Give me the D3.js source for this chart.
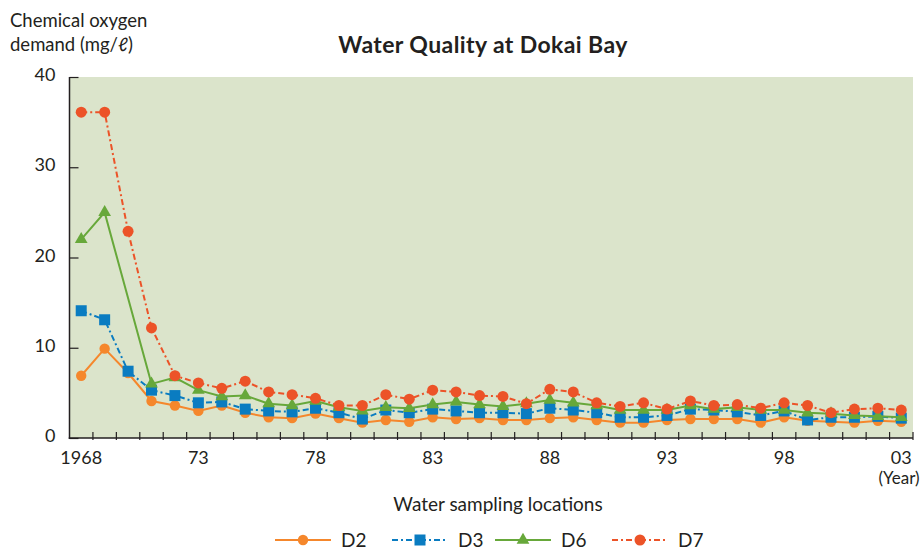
<!DOCTYPE html>
<html>
<head>
<meta charset="utf-8">
<script src="https://cdn.jsdelivr.net/npm/d3@7"></script>
<style>
  body { margin: 0; background: #fff; }
  svg text { font-family: Lato, "Open Sans", sans-serif; fill: #231f20; }
  .axis path, .axis line { stroke: #231f20; }
</style>
</head>
<body>
<div id="canvas"></div>
<script>
// ---- ---- DATA ---- ----
var years = d3.range(1968, 2004);
var yTicks = [0, 10, 20, 30, 40];
var xLabelYears = [1968, 1973, 1978, 1983, 1988, 1993, 1998, 2003];

var d2 = [6.9, 9.9, 7.2, 4.1, 3.6, 3.0, 3.6, 2.8, 2.3, 2.2, 2.7, 2.2,
          1.7, 2.0, 1.8, 2.3, 2.1, 2.2, 2.0, 2.0, 2.2, 2.3, 2.0, 1.7,
          1.7, 2.0, 2.1, 2.1, 2.1, 1.7, 2.3, 1.9, 1.8, 1.7, 1.9, 1.8];
var d3s = [14.1, 13.1, 7.4, 5.3, 4.7, 3.9, 4.0, 3.2, 3.0, 2.9, 3.3, 2.8,
           2.1, 3.1, 2.8, 3.2, 3.0, 2.8, 2.8, 2.7, 3.3, 3.1, 2.8, 2.3,
           2.3, 2.5, 3.2, 3.1, 2.9, 2.5, 3.0, 2.0, 2.3, 2.3, 2.4, 2.2];
var d6 = [22.0, 25.0, null, 6.0, 6.7, 5.3, 4.6, 4.7, 3.8, 3.6, 4.1, 3.4,
          3.0, 3.4, 3.3, 3.7, 4.0, 3.7, 3.5, 3.8, 4.2, 3.9, 3.6, 3.1,
          3.1, 3.1, 3.6, 3.2, 3.4, 3.1, 3.1, 2.8, 2.7, 2.5, 2.4, 2.3];
var d7 = [36.1, 36.1, 22.9, 12.2, 6.9, 6.1, 5.5, 6.3, 5.1, 4.8, 4.4, 3.6,
          3.6, 4.8, 4.3, 5.3, 5.1, 4.7, 4.6, 3.8, 5.4, 5.1, 3.9, 3.5,
          3.9, 3.2, 4.1, 3.6, 3.7, 3.3, 3.9, 3.6, 2.8, 3.2, 3.3, 3.1];

var series = [
  {name: 'D2', values: d2, color: '#f5872c', dash: null, marker: 'circle'},
  {name: 'D3', values: d3s, color: '#0a7cc1', dash: '6,3,2,3', marker: 'square'},
  {name: 'D6', values: d6, color: '#67a83a', dash: null, marker: 'triangle'},
  {name: 'D7', values: d7, color: '#ec5328', dash: '6,3,2,3', marker: 'circle'}
];

// ---- ---- MARGIN CONVENTION ---- ----
var W = 924, H = 551;
var m = {t: 77, r: 11, b: 113, l: 69.5};
var w = W - m.l - m.r,
    h = H - m.t - m.b;

var svg = d3.select('#canvas').append('svg')
    .attr('width', W)
    .attr('height', H);

var plot = svg.append('g')
    .attr('transform', 'translate(' + m.l + ',' + m.t + ')');

// ---- ---- SCALES ---- ----
var scaleX = d3.scaleBand().domain(years).range([0, w]);
var scaleY = d3.scaleLinear().domain([0, 40]).range([h, 0]);
var cx = function(yr) { return scaleX(yr) + scaleX.bandwidth() / 2; };

// ---- ---- BACKGROUND ---- ----
plot.append('rect')
    .attr('x', 0).attr('y', 0)
    .attr('width', w).attr('height', h)
    .attr('fill', '#dbe4cb');

// ---- ---- AXES ---- ----
var axisY = d3.axisLeft(scaleY)
    .tickValues(yTicks)
    .tickSize(-9)
    .tickSizeOuter(0)
    .tickPadding(14);

plot.append('g').attr('class', 'axis axis-y')
    .call(axisY)
    .call(function(g) {
      g.select('.domain').attr('stroke-width', 1.5).attr('d', 'M0,' + (h + 1) + 'V0');
      g.selectAll('.tick line').attr('stroke-width', 1.2);
      g.selectAll('text').style('font-size', '18px').attr('fill', '#231f20').attr('dy', '0.2em');
    });

// tick marks sit on the category boundaries
var axisXTicks = d3.axisBottom(scaleX)
    .tickSize(-6)
    .tickSizeOuter(0)
    .tickFormat('');

plot.append('g').attr('class', 'axis axis-x-ticks')
    .attr('transform', 'translate(' + (scaleX.bandwidth() / 2) + ',' + (h + 2) + ')')
    .call(axisXTicks)
    .call(function(g) {
      g.select('.domain').remove();
      g.selectAll('.tick line').attr('stroke-width', 1.2).attr('y2', -8);
    });

plot.append('line')
    .attr('x1', -0.75).attr('x2', w)
    .attr('y1', h).attr('y2', h)
    .attr('stroke', '#231f20').attr('stroke-width', 1.5);

var axisX = d3.axisBottom(scaleX)
    .tickValues(xLabelYears)
    .tickSize(0)
    .tickPadding(13)
    .tickFormat(function(d) { return d === 1968 ? '1968' : d3.format('02d')(d % 100); });

plot.append('g').attr('class', 'axis axis-x')
    .attr('transform', 'translate(0,' + h + ')')
    .call(axisX)
    .call(function(g) {
      g.select('.domain').remove();
      g.selectAll('text').style('font-size', '18px').attr('fill', '#231f20');
    });

// ---- ---- LINES & MARKERS ---- ----
var line = d3.line()
    .x(function(d) { return cx(d.year); })
    .y(function(d) { return scaleY(d.v); });

var tri = d3.symbol().type(d3.symbolTriangle).size(70);

function drawMarker(sel, s) {
  if (s.marker === 'circle') {
    sel.append('circle').attr('r', s.name === 'D7' ? 5.5 : 5.2).attr('fill', s.color);
  } else if (s.marker === 'square') {
    sel.append('rect').attr('x', -5.5).attr('y', -5.5).attr('width', 11).attr('height', 11).attr('fill', s.color);
  } else {
    sel.append('path').attr('d', tri).attr('fill', s.color);
  }
}

series.forEach(function(s) {
  var pts = years.map(function(yr, i) { return {year: yr, v: s.values[i]}; })
      .filter(function(d) { return d.v !== null; });

  var g = plot.append('g').attr('class', 'series');
  g.append('path')
      .datum(pts)
      .attr('d', line)
      .attr('fill', 'none')
      .attr('stroke', s.color)
      .attr('stroke-width', 2)
      .attr('stroke-dasharray', s.dash);

  g.selectAll('.mk')
      .data(pts)
      .enter().append('g')
      .attr('class', 'mk')
      .attr('transform', function(d) { return 'translate(' + cx(d.year) + ',' + scaleY(d.v) + ')'; })
      .each(function() { drawMarker(d3.select(this), s); });
});

// ---- ---- TEXT ---- ----
svg.append('text')
    .attr('x', 483).attr('y', 53)
    .attr('text-anchor', 'middle')
    .style('font-size', '23px').style('font-weight', 'bold')
    .style('letter-spacing', '0.4px')
    .text('Water Quality at Dokai Bay');

svg.append('text').attr('x', 10).attr('y', 27).style('font-size', '18.5px').text('Chemical oxygen');
svg.append('text').attr('x', 10).attr('y', 51).style('font-size', '18.5px').text('demand (mg/ℓ)');

svg.append('text')
    .attr('x', 498).attr('y', 511)
    .attr('text-anchor', 'middle')
    .style('font-size', '19px')
    .text('Water sampling locations');

svg.append('text')
    .attr('x', 899).attr('y', 484)
    .attr('text-anchor', 'middle')
    .style('font-size', '17px')
    .text('(Year)');

// ---- ---- LEGEND ---- ----
var legendX = [275, 392, 495, 612];
var legend = svg.append('g').attr('class', 'legend');
series.forEach(function(s, i) {
  var g = legend.append('g').attr('transform', 'translate(' + legendX[i] + ',540)');
  g.append('line')
      .attr('x1', 0).attr('x2', 56)
      .attr('y1', 0).attr('y2', 0)
      .attr('stroke', s.color).attr('stroke-width', 2)
      .attr('stroke-dasharray', s.dash);
  var mk = g.append('g').attr('transform', 'translate(28,0)');
  drawMarker(mk, s);
  g.append('text')
      .attr('x', 66).attr('y', 7)
      .style('font-size', '19px')
      .text(s.name);
});
</script>
</body>
</html>
